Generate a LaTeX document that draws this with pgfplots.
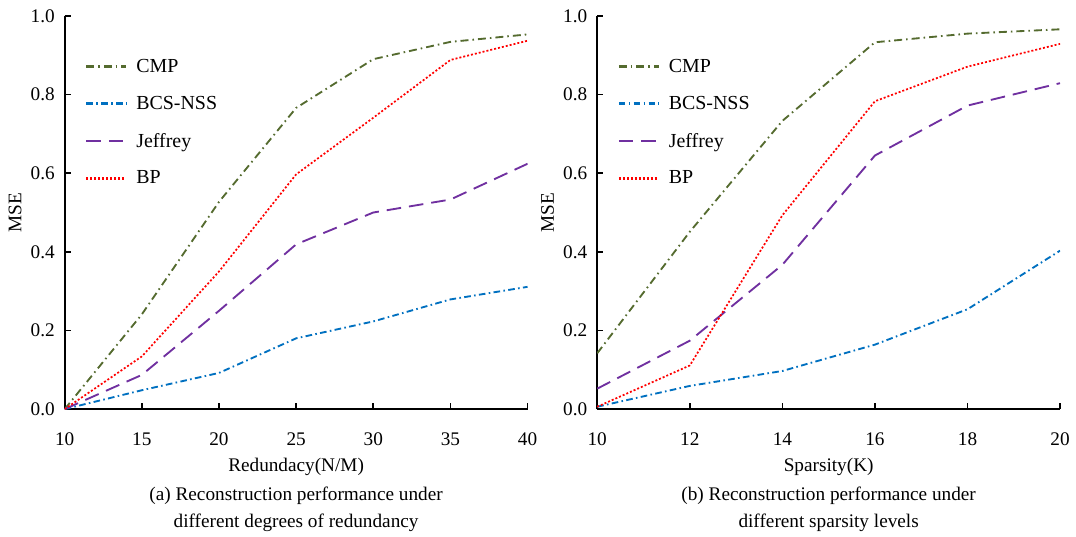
\documentclass[border=0pt]{standalone}
\usepackage{fontspec}
\setmainfont{Liberation Serif}
\usepackage{pgfplots}
\pgfplotsset{compat=1.18}
\definecolor{cmpc}{RGB}{85,107,47}
\definecolor{bcsc}{RGB}{0,112,192}
\definecolor{jefc}{RGB}{112,48,160}
\definecolor{bpc}{RGB}{255,0,0}
\tikzset{
  cmpstyle/.style={draw=cmpc, line width=1.4pt, dash pattern=on 6pt off 3pt on 1.2pt off 3pt},
  bcsstyle/.style={draw=bcsc, line width=1.4pt, dash pattern=on 5pt off 2.5pt on 1.2pt off 2.5pt},
  jefstyle/.style={draw=jefc, line width=1.4pt, dash pattern=on 11pt off 6pt},
  bpstyle/.style={draw=bpc, line width=1.3pt, dash pattern=on 1.5pt off 1.5pt},
}
\pgfplotsset{
  legend image code/.code={\draw[#1, line width=1.7pt] (0pt,0pt) -- (30pt,0pt); \path (35pt,0pt);},
  myaxis/.style={
    scale only axis, width=348.75pt, height=296.25pt,
    axis x line*=bottom, axis y line*=left,
    axis line style={line width=1.6pt},
    major tick style={line width=1.2pt, black},
    major tick length=4.5pt,
    tick align=inside,
    ymin=0, ymax=1, ytick={0,0.2,...,1.0},
    yticklabel style={xshift=-4pt, /pgf/number format/.cd, fixed, fixed zerofill, precision=1},
    /pgf/number format/assume math mode=true,
    tick label style={font=\fontsize{14.5}{16}\selectfont},
    xticklabel style={yshift=-14pt},
    label style={font=\fontsize{14.5}{16}\selectfont},
    xlabel style={yshift=-2.5pt},
    ylabel={MSE},
    legend style={draw=none, fill=none, at={(0.035,0.905)}, anchor=north west,
      font=\fontsize{15}{17}\selectfont, row sep=12.5pt},
    legend cell align=left,
  },
}
\begin{document}
\begin{tikzpicture}
\begin{axis}[myaxis, name=a1, at={(0,0)}, anchor=origin,
  xmin=10, xmax=40, xtick={10,15,...,40},
  xlabel={Redundacy(N/M)}]
\addplot[cmpstyle] coordinates {(10,0) (15,0.241) (20,0.527) (25,0.766) (30,0.89) (35,0.934) (40,0.953)};
\addlegendentry{CMP}
\addplot[bcsstyle] coordinates {(10,0) (15,0.048) (20,0.092) (25,0.18) (30,0.223) (35,0.279) (40,0.311)};
\addlegendentry{BCS-NSS}
\addplot[jefstyle] coordinates {(10,0) (15,0.087) (20,0.25) (25,0.419) (30,0.5) (35,0.533) (40,0.624)};
\addlegendentry{Jeffrey}
\addplot[bpstyle] coordinates {(10,0) (15,0.134) (20,0.35) (25,0.597) (30,0.741) (35,0.888) (40,0.937)};
\addlegendentry{BP}
\end{axis}
\node[anchor=north, align=center, font=\fontsize{14.5}{20.5}\selectfont] at ([yshift=-55pt]a1.south) {(a) Reconstruction performance under\\different degrees of redundancy};
\begin{axis}[myaxis, name=a2, at={(401.25pt,0)}, anchor=origin,
  xmin=10, xmax=20, xtick={10,12,...,20},
  xlabel={Sparsity(K)}]
\addplot[cmpstyle] coordinates {(10,0.142) (12,0.451) (14,0.733) (16,0.933) (18,0.955) (20,0.966)};
\addlegendentry{CMP}
\addplot[bcsstyle] coordinates {(10,0.006) (12,0.059) (14,0.097) (16,0.164) (18,0.254) (20,0.403)};
\addlegendentry{BCS-NSS}
\addplot[jefstyle] coordinates {(10,0.052) (12,0.174) (14,0.367) (16,0.645) (18,0.772) (20,0.829)};
\addlegendentry{Jeffrey}
\addplot[bpstyle] coordinates {(10,0.006) (12,0.111) (14,0.493) (16,0.783) (18,0.871) (20,0.929)};
\addlegendentry{BP}
\end{axis}
\node[anchor=north, align=center, font=\fontsize{14.5}{20.5}\selectfont] at ([yshift=-55pt]a2.south) {(b) Reconstruction performance under\\different sparsity levels};
\path ([xshift=-48.75pt,yshift=12pt]a1.north west) ([xshift=12pt,yshift=-95pt]a2.south east);
\end{tikzpicture}
\end{document}
